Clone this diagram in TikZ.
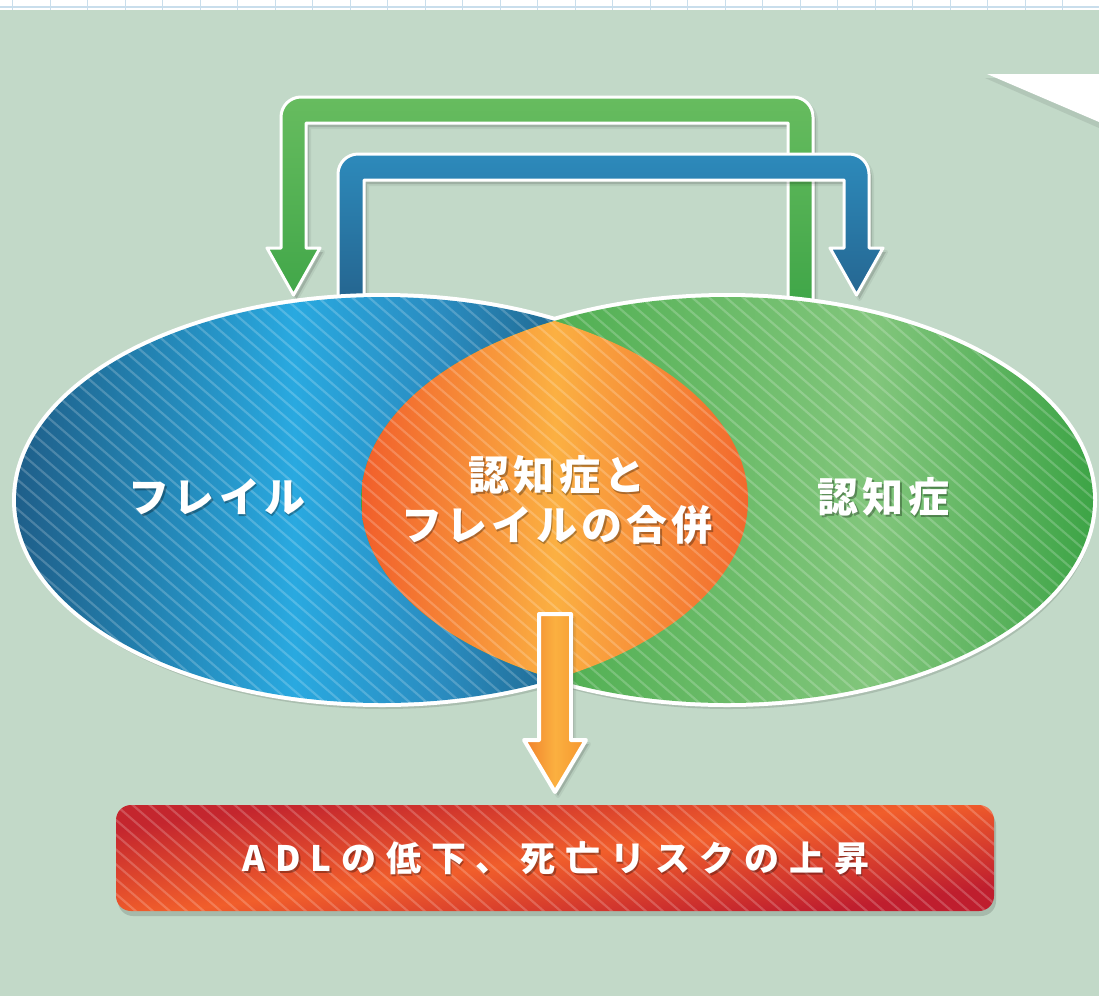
\documentclass[tikz,border=0pt]{standalone}
\usepackage{fontspec}
\newfontfamily\jp{Noto Sans CJK JP}[LetterSpace=10]
\newfontfamily\jpb{Noto Sans CJK JP}[LetterSpace=28]
\definecolor{bg}{HTML}{C2D9C8}
\definecolor{gridc}{HTML}{C9DEEC}
\definecolor{b0}{HTML}{1F5F8A}
\definecolor{b1}{HTML}{2176A3}
\definecolor{b2}{HTML}{29A9E0}
\definecolor{b3}{HTML}{2A8CC0}
\definecolor{b4}{HTML}{226F99}
\definecolor{g0}{HTML}{3E9F47}
\definecolor{g1}{HTML}{50AF52}
\definecolor{g2}{HTML}{82C67C}
\definecolor{g3}{HTML}{3DA446}
\definecolor{l0}{HTML}{F15F2B}
\definecolor{l1}{HTML}{FBB042}
\definecolor{l2}{HTML}{F2682D}
\definecolor{gtop}{HTML}{67BC5F}
\definecolor{gbot}{HTML}{3EA547}
\definecolor{btop}{HTML}{2D8ABB}
\definecolor{bbot}{HTML}{24628C}
\definecolor{oleft}{HTML}{F0802B}
\definecolor{omid}{HTML}{FBB040}
\definecolor{oright}{HTML}{F5952E}
\definecolor{r1}{HTML}{BF1E2E}
\definecolor{o1}{HTML}{F15E2B}
\definecolor{r2}{HTML}{C4262E}
\pgfdeclarehorizontalshading{blueell}{100bp}{color(0bp)=(b0); color(25bp)=(b0); color(31bp)=(b1); color(44bp)=(b2); color(54bp)=(b3); color(61bp)=(b4); color(100bp)=(b4)}
\pgfdeclarehorizontalshading{greenell}{100bp}{color(0bp)=(g0); color(25bp)=(g0); color(38bp)=(g1); color(60bp)=(g2); color(75bp)=(g3); color(100bp)=(g3)}
\pgfdeclarehorizontalshading{lensshade}{100bp}{color(0bp)=(l0); color(25bp)=(l0); color(50bp)=(l1); color(75bp)=(l2); color(100bp)=(l2)}
\pgfdeclareverticalshading{redband}{100bp}{color(0bp)=(r1); color(45bp)=(r1); color(50bp)=(o1); color(55bp)=(r2); color(100bp)=(r2)}
\begin{document}
\begin{tikzpicture}[x=1pt,y=-1pt,
  txt/.style={text=white, font=\jp\bfseries\fontsize{41}{50}\selectfont, inner sep=0pt, align=center},
  txtsh/.style={text=black, text opacity=0.3, font=\jp\bfseries\fontsize{41}{50}\selectfont, inner sep=0pt, align=center},
  btxt/.style={text=white, font=\jpb\bfseries\fontsize{35}{40}\selectfont, inner sep=0pt},
  btxtsh/.style={text=black, text opacity=0.3, font=\jpb\bfseries\fontsize{35}{40}\selectfont, inner sep=0pt},
  stripe/.style={white, opacity=0.2, line width=2.2pt},
  arrowline/.style={draw=white, line width=3pt, line join=round},
  shadowfill/.style={fill=black, fill opacity=0.13, draw=black, draw opacity=0.06, line width=4pt, line join=round}]
\def\greenpath{(788,312) -- (788,123) -- (306,123) -- (306,248) -- (320,248) -- (293.5,295) -- (267,248) -- (281,248) -- (281,117) .. controls (281,106) and (290,97) .. (301,97) -- (793,97) .. controls (804,97) and (813,106) .. (813,117) -- (813,312) -- cycle}
\def\bluepath{(338,312) -- (338,174) .. controls (338,163) and (347,154) .. (358,154) -- (849,154) .. controls (860,154) and (869,163) .. (869,174) -- (869,248) -- (883,248) -- (856.5,295) -- (830,248) -- (844,248) -- (844,180) -- (364,180) -- (364,312) -- cycle}
\def\lell{(382,500) ellipse [x radius=366, y radius=203]}
\def\rell{(727,500) ellipse [x radius=366, y radius=203]}
\def\orpath{(539,614) -- (571,614) -- (571,740) -- (586,740) -- (555,792) -- (524,740) -- (539,740) -- cycle}
\useasboundingbox (0,0) rectangle (1099,996);
% background
\fill[bg] (0,0) rectangle (1099,996);
\fill[white] (0,0) rectangle (1099,10);
\draw[gridc, line width=2pt] (0,7) -- (1099,7);
\foreach \k in {0,...,29} \draw[gridc, line width=1pt] (12.6+37.5*\k,0) -- (12.6+37.5*\k,10);
% top right triangle
\fill[black, fill opacity=0.08] (985,78) -- (1099,78) -- (1099,128) -- cycle;
\fill[white] (987,74) -- (1099,74) -- (1099,122) -- cycle;
% green arrow
\path[shadowfill, shift={(3,4)}] \greenpath;
\path[arrowline, top color=gtop, bottom color=gbot] \greenpath;
% blue arrow
\path[shadowfill, shift={(3,4)}] \bluepath;
\path[arrowline, top color=btop, bottom color=bbot] \bluepath;
% ellipse shadows
\fill[black, fill opacity=0.12, shift={(2,6)}] \lell;
\fill[black, fill opacity=0.12, shift={(2,6)}] \rell;
% outlines
\draw[white, line width=8pt] \lell;
\draw[white, line width=8pt] \rell;
% fills
\shade[shading=blueell] \lell;
\shade[shading=greenell] \rell;
\begin{scope}
  \clip \lell;
  \clip \rell;
  \shade[shading=lensshade] (362,297) rectangle (748,703);
\end{scope}
% stripes on ellipses
\begin{scope}
  \clip \lell \rell;
  \foreach \a in {-840,-823,...,1100} \draw[stripe] (\a,0) -- ++(1150,1000);
\end{scope}
% orange arrow
\path[shadowfill, shift={(3,4)}] \orpath;
\path[draw=white, line width=4pt, line join=round, left color=oleft, right color=oright, middle color=omid] \orpath;
% red box
\fill[black, fill opacity=0.14, rounded corners=15pt] (118,810) rectangle (996,916);
\begin{scope}
  \clip[rounded corners=15pt] (116,805) rectangle (994,911);
  \shade[shading=redband, shading angle=8] (105,408) rectangle (1005,1308);
  \foreach \a in {-980,-963,...,120} \draw[stripe] (\a,0) -- ++(1150,1000);
\end{scope}
% texts
\node[txtsh] (frailsh) at (218.5,499) {フレイル};
\node[txt] (frail) at (217,497) {フレイル};
\node[txtsh] (demsh) at (885,499) {認知症};
\node[txt] (dem) at (883.5,497) {認知症};
\node[txtsh] (bothsh) at (558.5,502) {認知症と\\フレイルの合併};
\node[txt] (both) at (557,500) {認知症と\\フレイルの合併};
\node[btxtsh] (adlsh) at (557.5,860) {ADLの低下、死亡リスクの上昇};
\node[btxt] (adl) at (556,858) {ADLの低下、死亡リスクの上昇};
\end{tikzpicture}
\end{document}
